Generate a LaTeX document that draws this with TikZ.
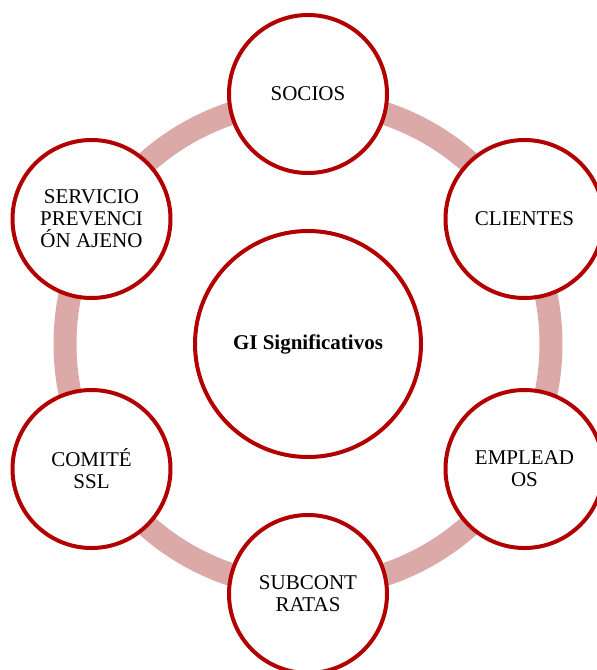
\documentclass[tikz,border=0pt]{standalone}
\usepackage{fontspec}
\setmainfont{Liberation Serif}
\usepackage{tikz}

\definecolor{rojoborde}{HTML}{B20000}
\definecolor{rosaanillo}{HTML}{DCA9A9}

\begin{document}
\begin{tikzpicture}[x=1pt, y=-1pt]
	\tikzset{grupo/.style = {shape=circle, draw=rojoborde, fill=white, line width=4pt, minimum size=158pt, inner sep=0pt, align=center, font=\fontsize{21}{22}\selectfont}}
	\tikzset{centro/.style = {grupo, minimum size=226pt, font=\fontsize{21}{22}\selectfont\bfseries}}
	\tikzset{anillo/.style = {draw=rosaanillo, line width=23pt}}
	\useasboundingbox (0, 0) rectangle (597, 670);
	\node[coordinate] (o) at (308, 344) {};
	\draw[anillo] (o) circle[radius=243];
	\node[centro] (gi) at (o) {GI Significativos};
	\node[grupo] (socios) at (308, 94) {SOCIOS};
	\node[grupo] (clientes) at (524.5, 219) {CLIENTES};
	\node[grupo] (empleados) at (524.5, 469) {EMPLEAD\\OS};
	\node[grupo] (subcontratas) at (308, 594) {SUBCONT\\RATAS};
	\node[grupo] (comite) at (91.5, 469) {COMITÉ\\SSL};
	\node[grupo] (servicio) at (91.5, 219) {SERVICIO\\PREVENCI\\ÓN AJENO};
\end{tikzpicture}
\end{document}
